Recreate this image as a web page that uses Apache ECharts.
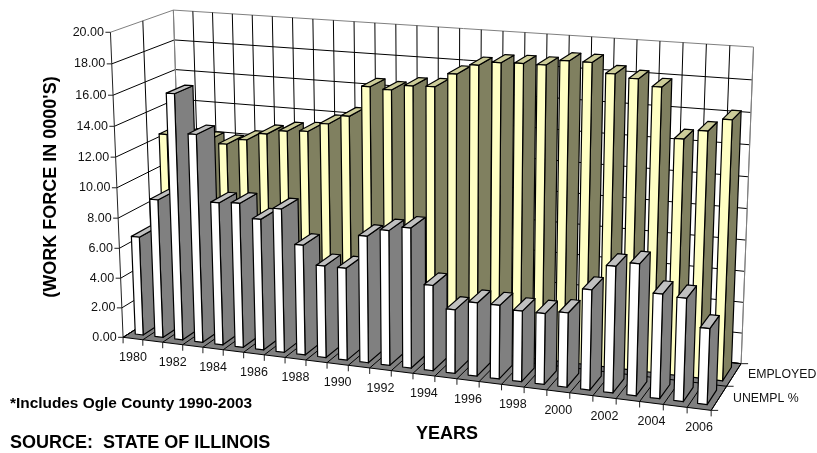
<!DOCTYPE html>
<html>
<head>
<meta charset="utf-8">
<style>html,body{margin:0;padding:0;background:#fff}#chart{width:817px;height:453px}</style>
<script src="https://cdn.jsdelivr.net/npm/echarts@6/dist/echarts.min.js"></script>
</head>
<body>
<div id="chart"></div>
<script>
// Work force by year, in 0000's
const years = ['1980','1981','1982','1983','1984','1985','1986','1987','1988','1989','1990','1991','1992','1993','1994','1995','1996','1997','1998','1999','2000','2001','2002','2003','2004','2005','2006'];
const unemployed = [6.6,9.2,16.2,13.7,9.4,9.5,8.6,9.4,7.2,6.0,6.0,8.2,8.7,9.0,5.5,4.1,4.7,4.7,4.5,4.5,4.7,6.3,7.9,8.2,6.5,6.4,4.7];
const employed = [12.4,12.3,12.2,12.1,12.5,13.0,13.3,13.4,14.0,14.6,16.6,16.5,16.85,16.9,17.8,18.45,18.7,18.75,18.75,19.1,19.1,18.5,18.3,17.9,14.85,15.45,16.25];
const depthLabels = ['UNEMPL %','EMPLOYED'];
const valueTicks = ['0.00','2.00','4.00','6.00','8.00','10.00','12.00','14.00','16.00','18.00','20.00'];

const FONT = '"Liberation Sans", Arial, sans-serif';
const WIDTH = 817, HEIGHT = 453;
const BAR_WIDTH = 0.4;   // share of a year cell
const BAR_DEPTH = 0.3;   // share of the whole floor depth

// Reference points of the box on the page: [x, y, z] in the unit box -> [px, py]
const boxPoints = [
  [0,0,0, 123,337], [1,0,0, 711,410], [0,1,0, 110,32], [0,1,1, 173,10],
  [1,1,1, 754,47],  [1,0,1, 742,363],
  [0,1,0.5, 143,20.7], [1,0,0.5, 726.5,386.5],
  [10/27,1,1, 375,23.5], [20/27,1,1, 592,37],
  [8/27,0,0, 285,358], [14/27,0,0, 412.7,373.5], [20/27,0,0, 546.7,391],
  [0,0.5,0, 118,187], [1,0.5,1, 746,208], [0,0.8,1, 175,70]
];

// Least-squares fit of an 11-parameter perspective camera to those points
function fitCamera(pts) {
  const rows = [], rhs = [];
  pts.forEach(([x,y,z,u,v]) => {
    rows.push([x,y,z,1,0,0,0,0,-u*x,-u*y,-u*z]); rhs.push(u);
    rows.push([0,0,0,0,x,y,z,1,-v*x,-v*y,-v*z]); rhs.push(v);
  });
  const n = 11, m = [];
  for (let i = 0; i < n; i++) {
    m.push(new Array(n + 1).fill(0));
    for (let j = 0; j < n; j++) rows.forEach(r => { m[i][j] += r[i] * r[j]; });
    rows.forEach((r, k) => { m[i][n] += r[i] * rhs[k]; });
  }
  for (let c = 0; c < n; c++) {
    let p = c;
    for (let r = c + 1; r < n; r++) if (Math.abs(m[r][c]) > Math.abs(m[p][c])) p = r;
    [m[c], m[p]] = [m[p], m[c]];
    for (let r = 0; r < n; r++) {
      if (r === c) continue;
      const f = m[r][c] / m[c][c];
      for (let k = c; k <= n; k++) m[r][k] -= f * m[c][k];
    }
  }
  return m.map((row, i) => row[n] / row[i]);
}
const cam = fitCamera(boxPoints);
function project(x, y, z) {
  const w = cam[8]*x + cam[9]*y + cam[10]*z + 1;
  return [(cam[0]*x + cam[1]*y + cam[2]*z + cam[3]) / w,
          (cam[4]*x + cam[5]*y + cam[6]*z + cam[7]) / w];
}

// Axis scales -> unit box: the hidden cartesian grid fills the page
function unitX(api, i) { return api.coord([i, 0])[0] / WIDTH; }
function unitY(api, val) { return 1 - api.coord([0, val])[1] / HEIGHT; }

function seg(a, b, color, width, z2) {
  return { type: 'line', shape: { x1: a[0], y1: a[1], x2: b[0], y2: b[1] },
           style: { stroke: color, lineWidth: width, fill: null }, z2: z2 || 0, silent: true };
}
function poly(points, fill, z2) {
  return { type: 'polygon', shape: { points }, style: { fill, stroke: '#000', lineWidth: 1.2, lineJoin: 'round' }, z2, silent: true };
}
function label(text, x, y, align, size) {
  return { type: 'text', style: { text, x, y, fill: '#111', font: size + 'px ' + FONT, textAlign: align, textVerticalAlign: 'middle' }, z2: 5, silent: true };
}

// Walls, floor, gridlines, ticks and tick labels of the box
function renderFrame(params, api) {
  const kids = [];
  const GRID = '#000', EDGE = '#808080';
  kids.push({ type: 'polygon', shape: { points: [project(0,0,0), project(0,1,0), project(0,1,1), project(0,0,1)] }, style: { fill: '#fff' } });
  kids.push({ type: 'polygon', shape: { points: [project(0,0,1), project(0,1,1), project(1,1,1), project(1,0,1)] }, style: { fill: '#fff' } });
  kids.push({ type: 'polygon', shape: { points: [project(0,0,0), project(1,0,0), project(1,0,1), project(0,0,1)] }, style: { fill: '#808080', stroke: '#000', lineWidth: 1 } });

  const n = years.length;
  // horizontal gridlines and value ticks
  valueTicks.forEach(t => {
    const y = unitY(api, +t);
    const a = project(0, y, 0), b = project(0, y, 1), c = project(1, y, 1);
    const edge = y > 0.999;
    kids.push(seg(a, b, edge ? EDGE : GRID, 1));
    kids.push(seg(b, c, edge ? EDGE : GRID, 1));
    kids.push(seg([a[0] - 5, a[1]], a, '#222', 1));
    kids.push(label(t, a[0] - 6.5, a[1], 'right', 12.5));
  });
  // year cells: back wall verticals, floor lines, front ticks
  for (let i = 0; i <= n; i++) {
    const u = i / n;
    const edge = i === 0 || i === n;
    kids.push(seg(project(u,0,1), project(u,1,1), edge ? EDGE : GRID, 1));
    kids.push(seg(project(u,0,0), project(u,0,1), '#000', 1, 1));
    const f = project(u,0,0);
    kids.push(seg(f, [f[0], f[1] + 6], '#222', 1));
  }
  years.forEach((yr, i) => {
    if (i % 2) return;
    const c = project(unitX(api, i), 0, 0);
    kids.push(label(yr, c[0], c[1] + 19, 'center', 12.5));
  });
  // left wall verticals and depth divisions
  depthLabels.forEach((name, d) => {
    const z = (d + 1) / depthLabels.length;
    kids.push(seg(project(0,0,z), project(0,1,z), z === 1 ? EDGE : GRID, 1));
    kids.push(seg(project(0,0,z), project(1,0,z), '#000', 1, 1));
    const mid = project(1,0,(d + 0.5) / depthLabels.length);
    kids.push(label(name, mid[0] + 14, mid[1], 'left', 12.3));
    const tk = project(1,0,d / depthLabels.length);
    kids.push(seg(tk, [tk[0] + 7, tk[1]], '#222', 1));
  });
  const tk = project(1,0,1);
  kids.push(seg(tk, [tk[0] + 7, tk[1]], '#222', 1));
  kids.push(seg(project(0,0,0), project(0,1,0), '#222', 1));
  kids.push(seg(project(1,0,1), project(1,1,1), EDGE, 1));
  return { type: 'group', children: kids };
}

// One 3D column: front, right side and top faces
function barRenderer(row, colors) {
  return function (params, api) {
    const i = api.value(0), val = api.value(1);
    const cx = unitX(api, i), half = BAR_WIDTH / years.length / 2;
    const x0 = cx - half, x1 = cx + half;
    const zc = (row + 0.5) / depthLabels.length;
    const z0 = zc - BAR_DEPTH / 2, z1 = zc + BAR_DEPTH / 2;
    const y0 = unitY(api, 0), y1 = unitY(api, val);
    return { type: 'group', children: [
      poly([project(x1,y0,z0), project(x1,y1,z0), project(x1,y1,z1), project(x1,y0,z1)], colors.side, 1),
      poly([project(x0,y1,z0), project(x1,y1,z0), project(x1,y1,z1), project(x0,y1,z1)], colors.top, 2),
      poly([project(x0,y0,z0), project(x1,y0,z0), project(x1,y1,z0), project(x0,y1,z0)], colors.front, 3)
    ] };
  };
}

function barSeries(name, values, row, colors) {
  return { name, type: 'custom', coordinateSystem: 'cartesian2d', clip: false, silent: true,
           renderItem: barRenderer(row, colors), z: 3 + (1 - row),
           encode: { x: 0, y: 1 }, data: values.map((v, i) => [i, v]) };
}

const chart = echarts.init(document.getElementById('chart'), null, { renderer: 'canvas' });
chart.setOption({
  animation: false,
  backgroundColor: '#fff',
  grid: { left: 0, top: 0, width: WIDTH, height: HEIGHT, containLabel: false },
  xAxis: { type: 'category', data: years, show: false, boundaryGap: true },
  yAxis: { type: 'value', min: 0, max: 20, interval: 2, show: false },
  series: [
    { name: 'frame', type: 'custom', coordinateSystem: 'cartesian2d', clip: false, silent: true, z: 1,
      renderItem: renderFrame, encode: { x: 0, y: 1 }, data: [[0, 0]] },
    barSeries('EMPLOYED', employed, 1, { front: '#FFFFC4', side: '#808060', top: '#CCCC99' }),
    barSeries('UNEMPL %', unemployed, 0, { front: '#FFFFFF', side: '#808080', top: '#C0C0C0' })
  ],
  graphic: [
    { type: 'text', x: 51, y: 187, rotation: Math.PI / 2, silent: true,
      style: { text: "(WORK FORCE IN 0000'S)", fill: '#000', font: 'bold 18px ' + FONT, textAlign: 'center', textVerticalAlign: 'middle' } },
    { type: 'text', x: 447, y: 434, silent: true,
      style: { text: 'YEARS', fill: '#000', font: 'bold 18px ' + FONT, textAlign: 'center', textVerticalAlign: 'middle' } },
    { type: 'text', x: 10, y: 404, silent: true,
      style: { text: '*Includes Ogle County 1990-2003', fill: '#000', font: 'bold 15.4px ' + FONT, textAlign: 'left', textVerticalAlign: 'middle' } },
    { type: 'text', x: 10, y: 443, silent: true,
      style: { text: 'SOURCE:  STATE OF ILLINOIS', fill: '#000', font: 'bold 18px ' + FONT, textAlign: 'left', textVerticalAlign: 'middle' } }
  ]
});
</script>
</body>
</html>
